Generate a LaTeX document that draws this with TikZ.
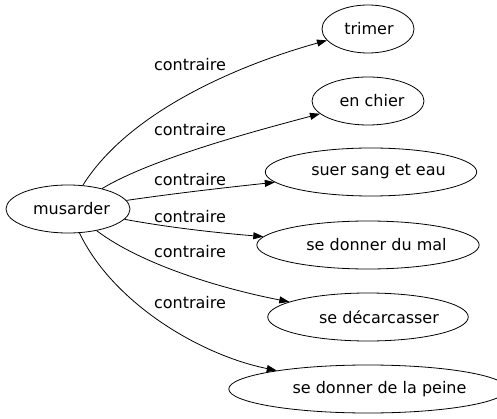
\documentclass[tikz,border=0pt]{standalone}
\usepackage{fontspec}
\setmainfont{DejaVu Sans}
\usetikzlibrary{shapes.geometric,arrows.meta}
\begin{document}
\begin{tikzpicture}[x=1pt,y=-1pt,
  term/.style={draw,ellipse,inner sep=0pt,minimum height=48pt,line width=0.8pt,font=\fontsize{16}{19}\selectfont},
  rel/.style={-{Triangle[length=10pt,width=7pt]},line width=0.8pt},
  lab/.style={font=\fontsize{16}{19}\selectfont,inner sep=0pt}]
\useasboundingbox (0,0) rectangle (497,419);
\node[term,minimum width=124pt] (m) at (68,209) {\hspace*{7pt}musarder};
\node[term,minimum width=92pt] (t1) at (368,29) {\hspace*{2pt}trimer};
\node[term,minimum width=112pt] (t2) at (368,101) {\hspace*{8pt}en chier};
\node[term,minimum width=198pt] (t3) at (371,172) {\hspace*{15pt}suer sang et eau};
\node[term,minimum width=206pt] (t4) at (368,245) {\hspace*{17pt}se donner du mal};
\node[term,minimum width=180pt] (t5) at (368,317) {\hspace*{22pt}se décarcasser};
\node[term,minimum width=250pt] (t6) at (368,389) {\hspace*{23pt}se donner de la peine};
\draw[rel] (m) .. controls (130,110) and (242,64) .. (t1);
\draw[rel] (m) .. controls (153,158) and (259,130) .. (t2);
\draw[rel] (m) .. controls (177,193) and (231,187) .. (t3);
\draw[rel] (m) .. controls (172,228) and (219,233) .. (t4);
\draw[rel] (m) .. controls (142,265) and (223,289) .. (t5);
\draw[rel] (m) .. controls (113,303) and (200,355) .. (t6);
\node[lab] (l1) at (190,65) {contraire};
\node[lab] (l2) at (190,130) {contraire};
\node[lab] (l3) at (190,180) {contraire};
\node[lab] (l4) at (190,217) {contraire};
\node[lab] (l5) at (190,252) {contraire};
\node[lab] (l6) at (190,303) {contraire};
\end{tikzpicture}
\end{document}
